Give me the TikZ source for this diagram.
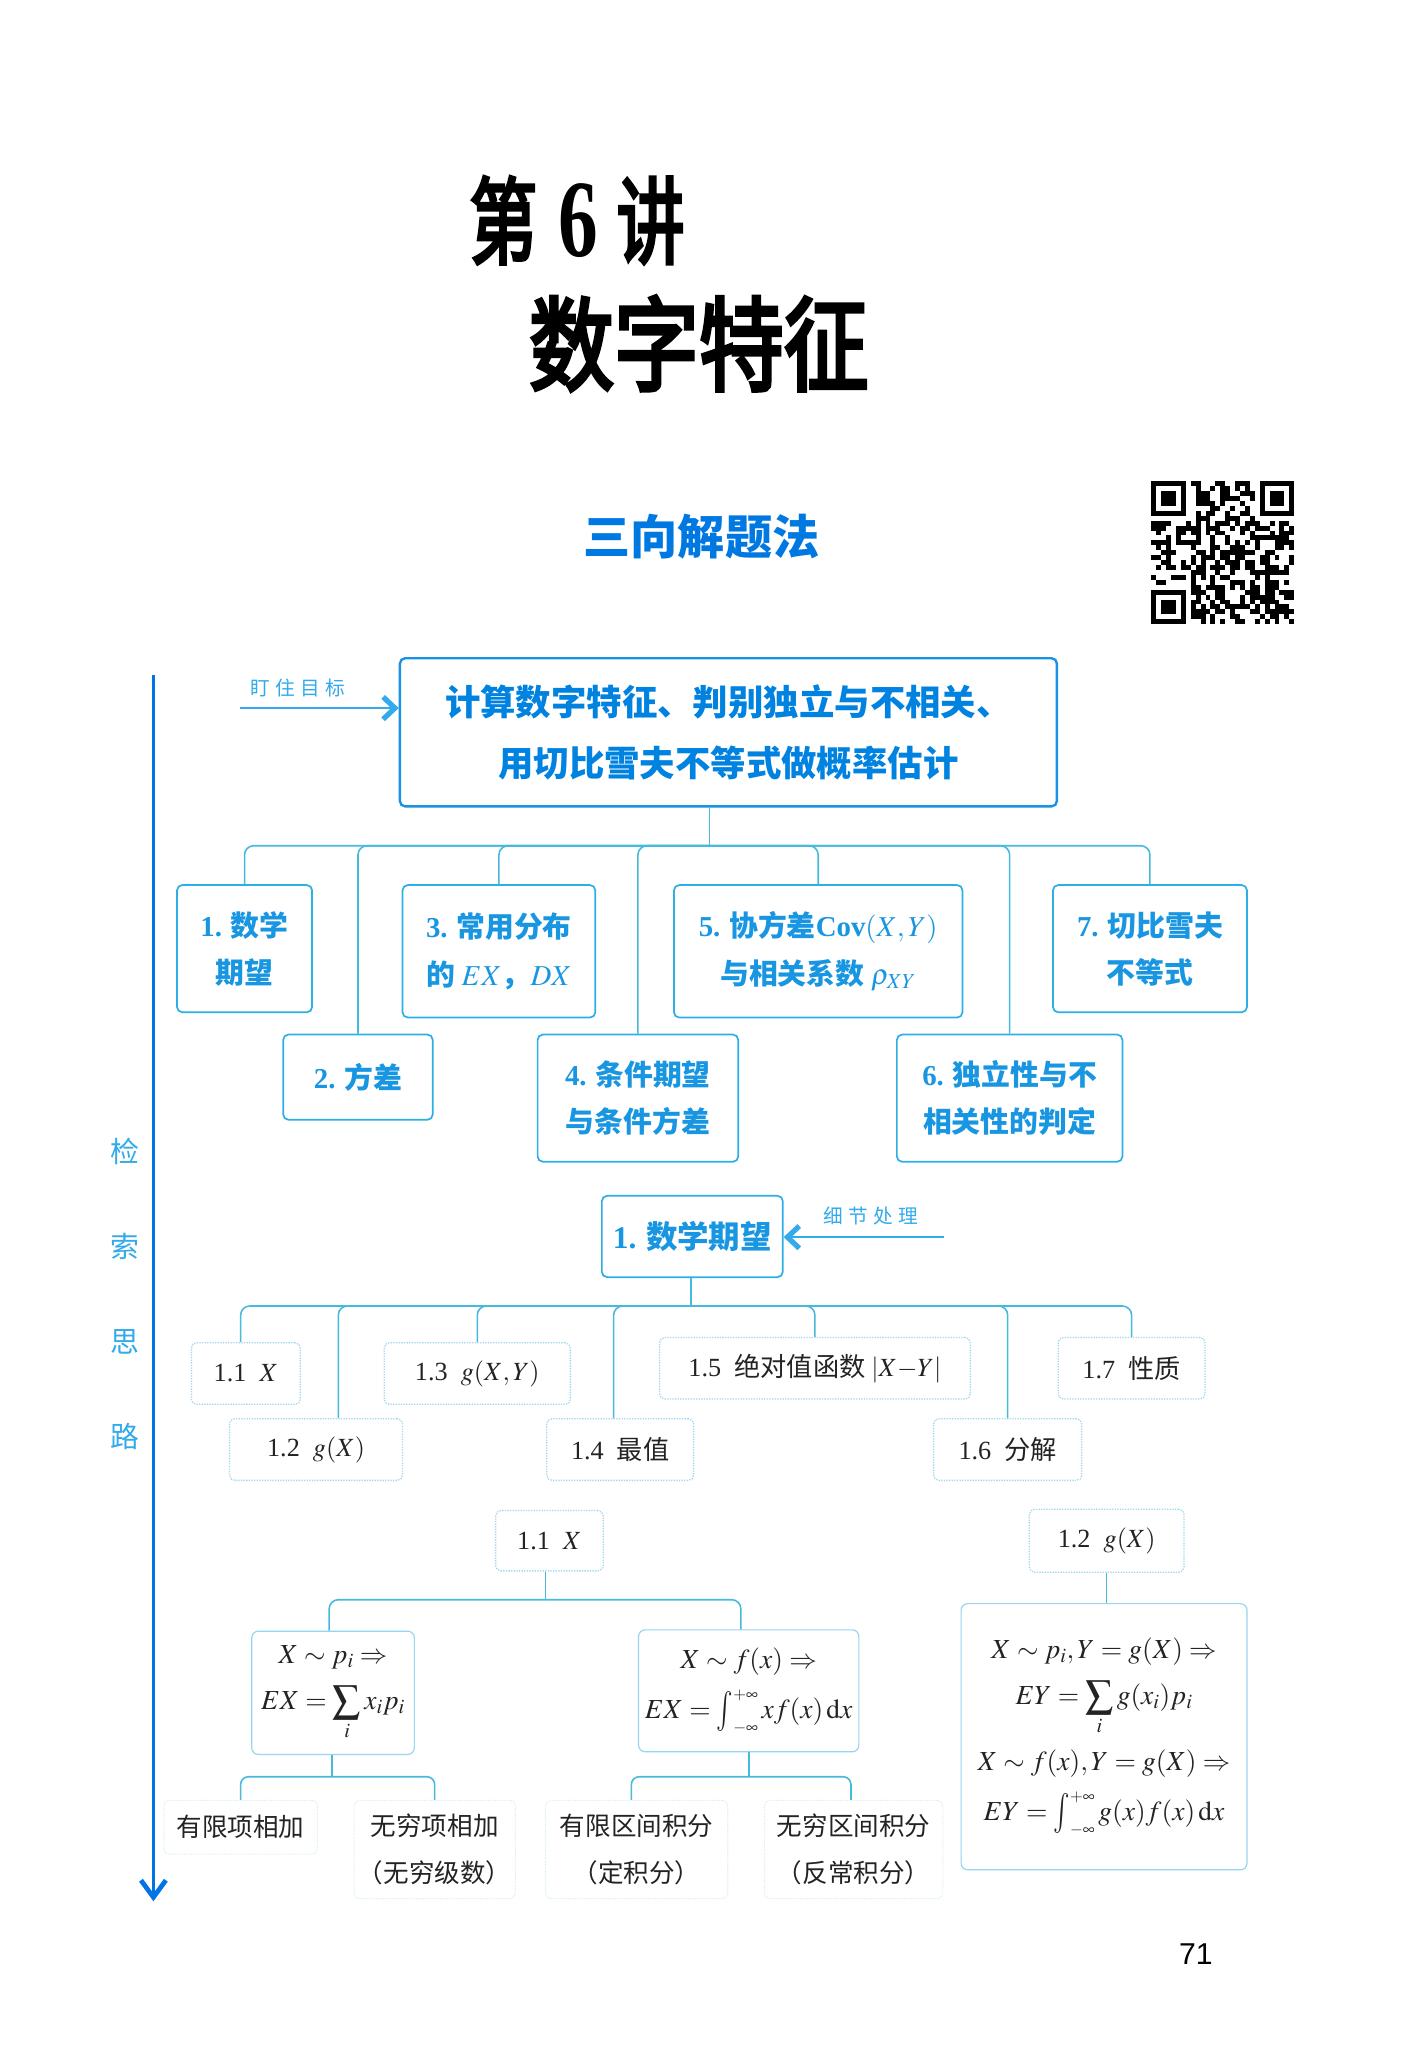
\documentclass[tikz,border=0pt]{standalone}
\usepackage{mathptmx}
\usepackage{fontspec}
\setmainfont{Liberation Serif}
\setsansfont{Liberation Sans}
\newfontfamily\cjk{Noto Sans CJK SC}
\newfontfamily\cjkheavy[FakeBold=4]{Noto Sans CJK SC}
\usetikzlibrary{arrows.meta,calc}

\definecolor{titleblue}{RGB}{0,120,225}
\definecolor{mainblue}{RGB}{25,145,230}
\definecolor{maintext}{RGB}{0,130,225}
\definecolor{boxline}{RGB}{45,175,230}
\definecolor{boxtext}{RGB}{25,150,225}
\definecolor{conncol}{RGB}{70,185,220}
\definecolor{faintline}{RGB}{160,215,240}
\definecolor{leafline}{RGB}{215,236,247}
\definecolor{softline}{RGB}{150,215,240}
\definecolor{handblue}{RGB}{50,170,235}
\definecolor{railblue}{RGB}{0,115,230}
\definecolor{inktext}{RGB}{35,35,35}

% integral sign a little taller than the text one, limits set small at its side
\newcommand{\wideint}{\mathop{\vcenter{\hbox{\scalebox{1}[1.45]{$\textstyle\int$}}}}\nolimits_{\scriptscriptstyle -\infty}^{\scriptscriptstyle +\infty}}

\tikzset{
  mainbox/.style={draw=mainblue, line width=1.8pt, rounded corners=4pt, inner sep=0pt,
    align=center, text=maintext, font=\cjk\bfseries\fontsize{27}{47}\selectfont},
  topbox/.style={draw=boxline, line width=1.3pt, rounded corners=4pt, inner sep=0pt,
    align=center, text=boxtext, font=\cjk\bfseries\fontsize{22}{36}\selectfont},
  midbox/.style={topbox, font=\cjk\bfseries\fontsize{24}{30}\selectfont},
  subbox/.style={draw=faintline, densely dotted, line width=1pt, rounded corners=4pt,
    inner sep=0pt, text=inktext, font=\cjk\fontsize{20}{24}\selectfont},
  formbox/.style={draw=softline, line width=0.9pt, rounded corners=5pt, inner sep=0pt,
    align=center, text=inktext, font=\rmfamily\fontsize{21}{35}\selectfont},
  leafbox/.style={draw=leafline, densely dotted, line width=0.8pt, rounded corners=4pt,
    inner sep=0pt, align=center, text=inktext, font=\cjk\fontsize{19.5}{36}\selectfont},
  conn/.style={draw=conncol, line width=1.2pt, rounded corners=7pt},
  handtag/.style={text=handblue, font=\cjk\fontsize{15}{15}\selectfont},
  pointer/.style={draw=handblue, line width=1.8pt,
    -{Straight Barb[length=9pt,width=17pt,line width=4pt]}},
}

\begin{document}
\begin{tikzpicture}[x=1pt,y=-1pt]
\fill[white] (0,0) rectangle (1081,1568);
\useasboundingbox (0,0) rectangle (1081,1568);

% ---------- headings ----------
\node[font=\cjkheavy\fontsize{72}{72}\selectfont] (lecture) at (440,168)
  {\scalebox{0.72}[1]{第\hspace{22pt}{\rmfamily\bfseries\fontsize{84}{84}\selectfont 6}\hspace{20pt}讲}};
\node[font=\cjkheavy\fontsize{78}{78}\selectfont] (topic) at (533,262)
  {\scalebox{0.83}[1]{数字特征}};
\node[font=\cjk\bfseries\fontsize{36}{36}\selectfont, text=titleblue] (method) at (535,409)
  {三向解题法};

% ---------- QR code ----------
\begin{scope}[shift={(878,367)}]
  \def\qm{3.76}
  \pgfmathsetseed{20}
  \foreach \i in {0,...,28}{
    \foreach \j in {0,...,28}{
      \pgfmathtruncatemacro\qbit{((\i<8 && \j<8) || (\i<8 && \j>20) || (\i>20 && \j<8)) ? 0 : (rnd<0.5 ? 1 : 0)}
      \ifnum\qbit=1 \fill ({\i*\qm},{\j*\qm}) rectangle ++(\qm,\qm); \fi
    }
  }
  \foreach \a/\b in {0/0,22/0,0/22}{
    \fill ({\a*\qm},{\b*\qm}) rectangle ++({7*\qm},{7*\qm});
    \fill[white] ({(\a+1)*\qm},{(\b+1)*\qm}) rectangle ++({5*\qm},{5*\qm});
    \fill ({(\a+2)*\qm},{(\b+2)*\qm}) rectangle ++({3*\qm},{3*\qm});
  }
\end{scope}

% ---------- left rail ----------
\coordinate (railtop) at (117,515);
\coordinate (railend) at (117,1450);
\draw[draw=railblue, line width=2pt, -{Straight Barb[length=13pt,width=19pt,line width=3.6pt]}] (railtop) -- (railend);
\node[text=handblue, font=\cjk\fontsize{22}{72.5}\selectfont, align=center] (railtag) at (95,987)
  {检\\索\\思\\路};

% ---------- goal ----------
\node[mainbox, minimum width=501pt, minimum height=113pt] (goal) at (555.5,558.5)
  {计算数字特征、判别独立与不相关、\\用切比雪夫不等式做概率估计};
\node[handtag] (goaltag) at (227,525) {盯\hspace{4pt}住\hspace{4pt}目\hspace{4pt}标};
\coordinate (goalfrom) at (183,540);
\draw[pointer] (goalfrom) -- (goalfrom -| goal.west);

% ---------- seven topics ----------
\node[topbox, minimum width=103pt, minimum height=97pt]  (b1) at (186.5,723.5) {{\rmfamily 1.} 数学\\期望};
\node[topbox, minimum width=147pt, minimum height=101pt] (b3) at (380.5,725.5) {{\rmfamily 3.} 常用分布\\的 $EX$，$DX$};
\node[topbox, minimum width=220pt, minimum height=101pt] (b5) at (624,725.5) {{\rmfamily 5.} 协方差{\rmfamily Cov}$(X,Y)$\\与相关系数 $\rho_{XY}$};
\node[topbox, minimum width=148pt, minimum height=97pt]  (b7) at (877,723.5) {{\rmfamily 7.} 切比雪夫\\不等式};
\node[topbox, minimum width=114pt, minimum height=65pt]  (b2) at (273,821.5) {{\rmfamily 2.} 方差};
\node[topbox, minimum width=153pt, minimum height=97pt]  (b4) at (486.5,837.5) {{\rmfamily 4.} 条件期望\\与条件方差};
\node[topbox, minimum width=172pt, minimum height=97pt]  (b6) at (770,837.5) {{\rmfamily 6.} 独立性与不\\相关性的判定};

\coordinate (bus1) at (541,645);
\draw[conn] (goal.south -| bus1) -- (bus1);
\foreach \b in {b1,b2,b3,b4,b5,b6,b7} \draw[conn] (bus1) -| (\b.north);

% ---------- expectation in detail ----------
\node[midbox, minimum width=138pt, minimum height=62pt] (ev) at (528,943) {{\rmfamily 1.} 数学期望};
\node[handtag] (detailtag) at (664,927) {细\hspace{4pt}节\hspace{4pt}处\hspace{4pt}理};
\coordinate (detailfrom) at (720,943.5);
\draw[pointer] (detailfrom) -- (detailfrom -| ev.east);

\node[subbox, minimum width=83pt,  minimum height=47pt] (s11) at (187.5,1047.5) {{\rmfamily 1.1}\enspace$X$};
\node[subbox, minimum width=132pt, minimum height=47pt] (s12) at (241,1105.5)  {{\rmfamily 1.2}\enspace$g(X)$};
\node[subbox, minimum width=142pt, minimum height=47pt] (s13) at (364,1047.5)  {{\rmfamily 1.3}\enspace$g(X,Y)$};
\node[subbox, minimum width=112pt, minimum height=47pt] (s14) at (473,1105.5)  {{\rmfamily 1.4}\enspace 最值};
\node[subbox, minimum width=237pt, minimum height=47pt] (s15) at (621.5,1043.5) {{\rmfamily 1.5}\enspace 绝对值函数 $|X{-}Y|$};
\node[subbox, minimum width=113pt, minimum height=47pt] (s16) at (768.5,1105.5) {{\rmfamily 1.6}\enspace 分解};
\node[subbox, minimum width=112pt, minimum height=47pt] (s17) at (863,1043.5)  {{\rmfamily 1.7}\enspace 性质};

\coordinate (bus2) at (527,996);
\draw[conn] (ev.south -| bus2) -- (bus2);
\draw[conn] (bus2) -| ([xshift=-4pt]s11.north);
\draw[conn] (bus2) -| ([xshift=17pt]s12.north);
\draw[conn] (bus2) -| (s13.north);
\draw[conn] (bus2) -| ([xshift=-5pt]s14.north);
\draw[conn] (bus2) -| (s15.north);
\draw[conn] (bus2) -| (s16.north);
\draw[conn] (bus2) -| (s17.north);

% ---------- formulas ----------
\node[subbox, minimum width=82pt,  minimum height=46pt] (c11) at (419,1175) {{\rmfamily 1.1}\enspace$X$};
\node[subbox, minimum width=118pt, minimum height=48pt] (c12) at (844,1175) {{\rmfamily 1.2}\enspace$g(X)$};

\node[formbox, minimum width=124pt, minimum height=94pt] (fL) at (254,1291)
  {$X\sim p_i\Rightarrow$\\$\displaystyle EX=\sum_i x_i p_i$};
\node[formbox, minimum width=168pt, minimum height=93pt] (fR) at (571,1289.5)
  {$X\sim f(x)\Rightarrow$\\[3pt]$EX=\wideint x f(x)\,\mathrm{d}x$};
\node[formbox, minimum width=218pt, minimum height=203pt] (big) at (842,1324.5)
  {$X\sim p_i,Y=g(X)\Rightarrow$\\$\displaystyle EY=\sum_i g(x_i)p_i$\\[10pt]
   $X\sim f(x),Y=g(X)\Rightarrow$\\[3pt]$EY=\wideint g(x)f(x)\,\mathrm{d}x$};

\coordinate (bus3) at (416,1220);
\draw[conn] (c11.south -| bus3) -- (bus3);
\draw[conn] (bus3) -| ([xshift=-3pt]fL.north);
\draw[conn] (bus3) -| ([xshift=-6pt]fR.north);
\draw[conn] (c12.south) -- (c12.south |- big.north);

% ---------- leaves ----------
\node[leafbox, minimum width=117pt, minimum height=41pt] (l1) at (183.5,1393.5) {有限项相加};
\node[leafbox, minimum width=123pt, minimum height=75pt] (l2) at (331.5,1410.5) {无穷项相加\\（无穷级数）};
\node[leafbox, minimum width=139pt, minimum height=75pt] (l3) at (485.5,1410.5) {有限区间积分\\（定积分）};
\node[leafbox, minimum width=136pt, minimum height=75pt] (l4) at (651,1410.5)   {无穷区间积分\\（反常积分）};

\coordinate (busL) at (253,1355);
\draw[conn, rounded corners=6pt] (fL.south -| busL) -- (busL);
\draw[conn, rounded corners=6pt] (busL) -| (l1.north);
\draw[conn, rounded corners=6pt] (busL) -| (l2.north);
\coordinate (busR) at (571,1355);
\draw[conn, rounded corners=6pt] (fR.south -| busR) -- (busR);
\draw[conn, rounded corners=6pt] (busR) -| ([xshift=-4pt]l3.north);
\draw[conn, rounded corners=6pt] (busR) -| ([xshift=-2pt]l4.north);

% ---------- page number ----------
\node[font=\sffamily\fontsize{23}{23}\selectfont] (page) at (912,1490) {71};
\end{tikzpicture}
\end{document}
